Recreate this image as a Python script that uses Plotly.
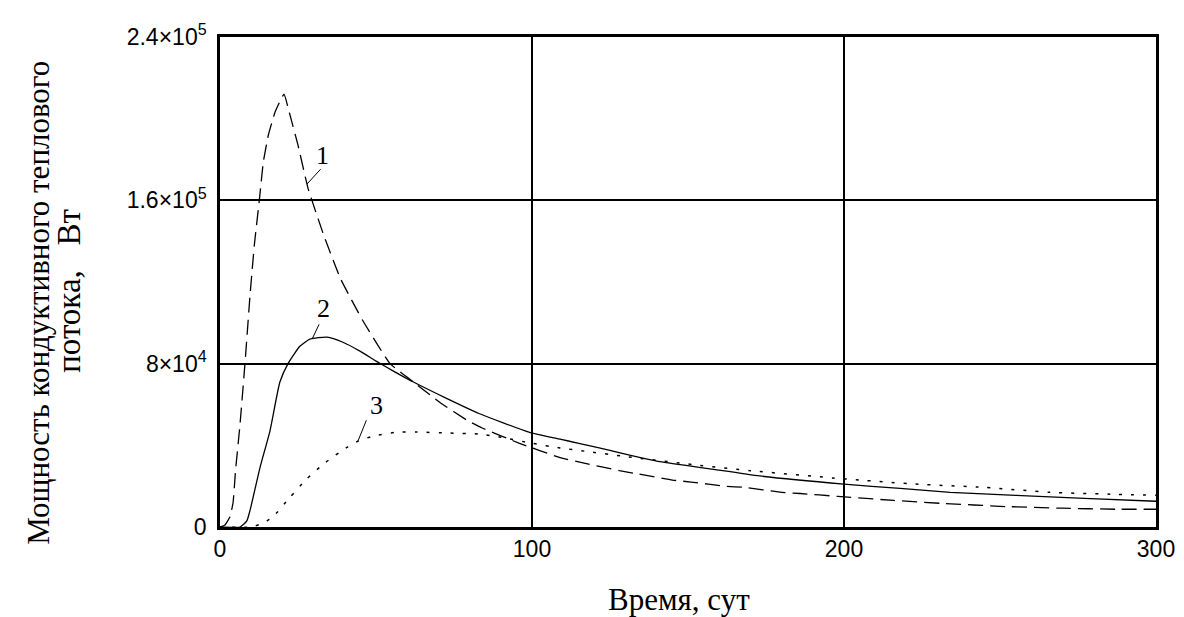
import plotly.graph_objects as go

# ---- data (time in days, power in W) ----
t1 = [0, 1.6, 3.2, 4.2, 5, 6.4, 8, 9.6, 11, 12.6, 13.9, 15.5, 17.6, 20.5, 22.4, 25, 28.2, 33, 38.5,
      45.8, 54.5, 62, 70.5, 79.5, 84, 96, 109, 116, 128, 134, 145, 151, 162, 168, 180, 186, 198,
      216, 231, 252, 270, 287, 300]
p1 = [0, 1e3, 5e3, 12e3, 28e3, 50e3, 80e3, 113e3, 138e3, 160e3, 179e3, 192e3, 203e3, 212e3, 202e3,
      187e3, 166e3, 144e3, 122e3, 101e3, 80e3, 71e3, 61e3, 52e3, 48.5e3, 41e3, 34e3, 31.5e3, 27.6e3,
      26e3, 23e3, 22e3, 20e3, 19.4e3, 17e3, 16.4e3, 15e3, 13e3, 11.6e3, 10e3, 9.2e3, 8.7e3, 8.7e3]

t2 = [0, 6.4, 8.6, 9.6, 12.8, 16, 19.2, 21.8, 25.6, 28.8, 34.3, 39.4, 45, 50.3, 56, 62, 72.6, 83,
      99, 109, 115, 125, 141, 157, 173, 200, 218, 234, 255, 277, 300]
p2 = [0, 0, 3e3, 8e3, 29e3, 47e3, 71e3, 80e3, 88.5e3, 92e3, 93e3, 90.5e3, 86e3, 81e3, 76e3, 71e3,
      63e3, 55.6e3, 46.5e3, 43e3, 41e3, 37.5e3, 32e3, 28.5e3, 25e3, 21e3, 18.9e3, 17e3, 15.5e3,
      14e3, 12.6e3]

t3 = [0, 10, 14, 17, 22.4, 27.9, 33.7, 40.7, 44.2, 49, 56.7, 63, 73.7, 83, 90, 100, 109, 117.6,
      130, 152, 170, 196.5, 205, 223, 245, 266, 287, 300]
p3 = [0, 0, 2e3, 5e3, 14.5e3, 23.7e3, 31.5e3, 39e3, 42e3, 44.5e3, 46.5e3, 46.5e3, 46e3, 45.5e3,
      44e3, 41e3, 38.7e3, 37e3, 34.5e3, 30.5e3, 27.6e3, 24e3, 23e3, 21e3, 19.4e3, 17e3, 16e3, 15.5e3]

x_ticks = [0, 100, 200, 300]
y_ticks = [0, 80000, 160000, 240000]
y_tick_text = ["0", "8×10<sup>4</sup>", "1.6×10<sup>5</sup>", "2.4×10<sup>5</sup>"]

# curve labels: (text, text x, text y, leader start x, leader start y, leader end x, leader end y)
labels = [("1", 33.0, 182e3, 32.7, 176e3, 27.9, 168e3),
          ("2", 33.3, 107e3, 32.0, 100e3, 29.5, 92e3),
          ("3", 50.0, 59.5e3, 47.1, 53e3, 44.2, 42e3)]

serif = "Liberation Serif, Times New Roman, serif"
sans = "Liberation Sans, Arial, sans-serif"

fig = go.Figure()
fig.add_trace(go.Scatter(x=t1, y=p1, mode="lines",
                         line=dict(color="black", width=1.3, dash="15px,7px",
                                   shape="spline", smoothing=0.35)))
fig.add_trace(go.Scatter(x=t2, y=p2, mode="lines",
                         line=dict(color="black", width=1.3, shape="spline", smoothing=0.5)))
fig.add_trace(go.Scatter(x=t3, y=p3, mode="lines",
                         line=dict(color="black", width=1.5, dash="3px,9px", shape="spline", smoothing=0.5)))

for txt, tx, ty, x0, y0, x1, y1 in labels:
    fig.add_annotation(x=x1, y=y1, ax=x0, ay=y0, axref="x", ayref="y", xref="x", yref="y",
                       text="", showarrow=True, arrowhead=0, arrowwidth=1, arrowcolor="black")
    fig.add_annotation(x=tx, y=ty, xref="x", yref="y", text=txt, showarrow=False,
                       font=dict(family=serif, size=26, color="black"),
                       xanchor="center", yanchor="middle")

fig.update_xaxes(range=[0, 300], tickvals=x_ticks, ticktext=[str(v) for v in x_ticks],
                 showgrid=True, gridcolor="black", gridwidth=1.5, zeroline=False,
                 showline=True, linecolor="black", linewidth=2.5, mirror=True,
                 ticks="", tickfont=dict(family=sans, size=23, color="black"))
fig.update_yaxes(range=[0, 240000], tickvals=y_ticks, ticktext=y_tick_text,
                 showgrid=True, gridcolor="black", gridwidth=1.5, zeroline=False,
                 showline=True, linecolor="black", linewidth=2.5, mirror=True,
                 ticks="", ticklabelstandoff=6,
                 tickfont=dict(family=sans, size=23, color="black"))

fig.add_annotation(text="Время, сут", xref="paper", yref="paper", x=0.49, y=-0.187,
                   xanchor="center", yanchor="bottom", showarrow=False,
                   font=dict(family=serif, size=31, color="black"))
fig.add_annotation(text="Мощность кондуктивного теплового", xref="paper", yref="paper",
                   x=-0.1934, y=0.4577, xanchor="center", yanchor="middle", showarrow=False, textangle=-90,
                   font=dict(family=serif, size=31, color="black"))
fig.add_annotation(text="потока,\u00a0\u00a0 Вт", xref="paper", yref="paper",
                   x=-0.1613, y=0.482, xanchor="center", yanchor="middle", showarrow=False, textangle=-90,
                   font=dict(family=serif, size=33, color="black"))

# the page body adds an 8px offset, so margins are shifted by 8px
fig.update_layout(width=1184, height=617, showlegend=False,
                  paper_bgcolor="white", plot_bgcolor="white",
                  margin=dict(l=212, r=36, t=23, b=98))

fig.write_html("out.html")
